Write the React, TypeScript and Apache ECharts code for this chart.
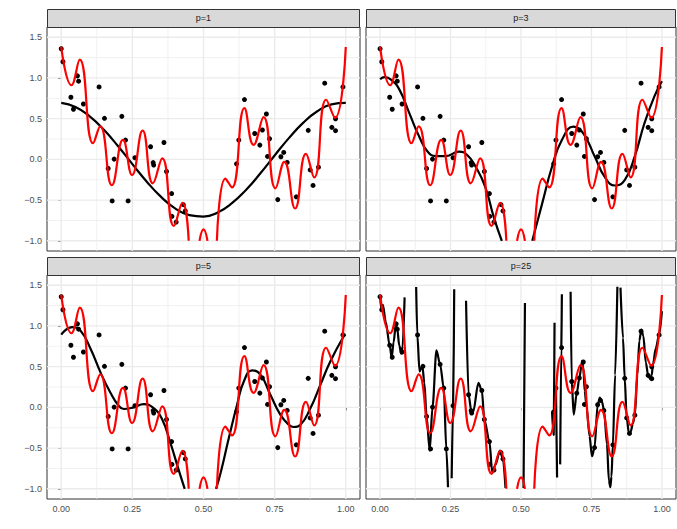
import React, { useEffect, useRef } from 'react';
import * as echarts from 'echarts';

type Pt = [number, number] | null;

const panelTitles = ['p=1', 'p=3', 'p=5', 'p=25'];
const xTickValues = [0, 0.25, 0.5, 0.75, 1];
const yTickValues = [-1, -0.5, 0, 0.5, 1, 1.5];
const xMinorValues = [0.125, 0.375, 0.625, 0.875];
const yMinorValues = [-0.75, -0.25, 0.25, 0.75, 1.25];

const observed: [number, number][] = [
  [0.000, 1.358], [0.006, 1.198], [0.034, 0.763], [0.043, 0.615], [0.057, 1.025],
  [0.061, 0.960], [0.078, 0.680], [0.133, 0.889], [0.152, 0.504], [0.165, -0.112],
  [0.179, -0.510], [0.186, 0.003], [0.213, 0.528], [0.226, 0.237], [0.235, -0.510],
  [0.259, 0.020], [0.314, 0.155], [0.323, -0.040], [0.325, -0.070], [0.361, 0.207],
  [0.370, -0.149], [0.388, -0.420], [0.389, -0.700], [0.404, -0.770], [0.429, -0.556],
  [0.436, -0.633], [0.616, -0.055], [0.624, 0.237], [0.644, 0.734], [0.680, 0.318],
  [0.698, 0.175], [0.707, 0.360], [0.721, 0.557], [0.725, 0.036], [0.732, 0.253],
  [0.761, -0.494], [0.772, 0.032], [0.782, 0.085], [0.794, -0.038], [0.826, -0.460],
  [0.868, 0.356], [0.875, -0.130], [0.885, -0.320], [0.904, -0.096], [0.926, 0.935],
  [0.951, 0.393], [0.964, 0.499], [0.964, 0.352], [0.990, 0.889],
];

// true function (red), broken where it leaves the y limits
const trueCurve: Pt[] = [
  [0, 1.38], [0.036, 0.91], [0.065, 1.225], [0.112, 0.198], [0.137, 0.405], [0.178, -0.318],
  [0.217, 0.239], [0.249, -0.192], [0.286, 0.353], [0.322, -0.294], [0.355, 0.013],
  [0.396, -0.818], [0.426, -0.533], [0.448, -1.0], null,
  [0.486, -1.0], [0.500, -0.86], [0.514, -1.0], null,
  [0.547, -1.0], [0.577, -0.237], [0.600, -0.345], [0.644, 0.63], [0.676, 0.178],
  [0.711, 0.518], [0.753, -0.355], [0.784, -0.03], [0.822, -0.603], [0.860, 0.068],
  [0.889, -0.222], [0.931, 0.732], [0.962, 0.51], [1.0, 1.38],
];

const fitP1: Pt[] = [
  [0, 0.693], [0.05, 0.642], [0.1, 0.528], [0.15, 0.363], [0.2, 0.161], [0.25, -0.058],
  [0.3, -0.271], [0.35, -0.458], [0.4, -0.601], [0.45, -0.685], [0.5, -0.703],
  [0.55, -0.652], [0.6, -0.538], [0.65, -0.373], [0.7, -0.171], [0.75, 0.048],
  [0.8, 0.261], [0.85, 0.448], [0.9, 0.591], [0.95, 0.675], [1.0, 0.693],
];

const fitP3: Pt[] = [
  [0, 0.984], [0.016, 1.009], [0.040, 0.976], [0.069, 0.853], [0.104, 0.565], [0.139, 0.277],
  [0.169, 0.094], [0.198, 0.04], [0.233, 0.04], [0.280, 0.094], [0.309, 0.053],
  [0.339, -0.09], [0.373, -0.337], [0.403, -0.706], [0.432, -1.0], null,
  [0.540, -1.0], [0.575, -0.543], [0.610, -0.091], [0.645, 0.237], [0.686, 0.401],
  [0.721, 0.319], [0.762, 0.032], [0.797, -0.214], [0.833, -0.321], [0.868, -0.255],
  [0.903, 0.032], [0.938, 0.443], [0.973, 0.771], [1.0, 0.96],
];

const fitP5: Pt[] = [
  [0, 0.894], [0.039, 0.985], [0.068, 0.94], [0.103, 0.72], [0.138, 0.43], [0.173, 0.18],
  [0.202, 0.02], [0.22, -0.02], [0.255, 0.0], [0.29, 0.04], [0.325, -0.01], [0.355, -0.15],
  [0.384, -0.44], [0.413, -0.77], [0.434, -1.0], null,
  [0.544, -1.0], [0.560, -0.807], [0.589, -0.377], [0.618, 0.033], [0.642, 0.32],
  [0.671, 0.455], [0.700, 0.402], [0.735, 0.156], [0.770, -0.09], [0.800, -0.213],
  [0.817, -0.241], [0.841, -0.213], [0.876, -0.008], [0.911, 0.279], [0.946, 0.566],
  [0.993, 0.873], [1.0, 0.89],
];

const fitP25: Pt[] = [
  [0, 1.365], [0.005, 1.2], [0.010, 1.26], [0.020, 1.05], [0.034, 0.763], [0.041, 0.61],
  [0.048, 0.8], [0.056, 1.03], [0.061, 0.96], [0.068, 0.76], [0.075, 0.66], [0.080, 0.75],
  [0.087, 1.35], null,
  [0.128, 1.477], [0.132, 0.894], [0.140, 0.44], [0.150, 0.51], [0.157, 0.3], [0.165, -0.112],
  [0.176, -0.53], [0.186, 0.003], [0.200, 0.70], [0.213, 0.528], [0.226, 0.237],
  [0.235, -0.51], [0.241, -0.98], null,
  [0.254, -0.87], [0.259, 0.02], [0.263, 1.45], null,
  [0.305, 1.31], [0.314, 0.155], [0.324, -0.05], [0.330, -0.06], [0.349, 0.30], [0.361, 0.207],
  [0.370, -0.149], [0.388, -0.42], [0.398, -0.80], [0.410, -0.70], [0.425, -0.53],
  [0.436, -0.633], [0.445, -0.99], null,
  [0.509, -0.99], [0.514, 1.28], null,
  [0.610, -0.05], [0.616, -0.34], [0.619, 1.04], null,
  [0.624, 0.237], [0.628, -0.86], null,
  [0.639, -0.70], [0.643, 0.73], [0.645, 1.39], null,
  [0.676, 1.42], [0.680, 0.318], [0.687, -0.09], [0.698, 0.175], [0.707, 0.36], [0.717, 0.57],
  [0.721, 0.50], [0.726, 0.2], [0.733, 0.0], [0.743, -0.35], [0.752, -0.60], [0.761, -0.494],
  [0.772, 0.032], [0.780, 0.12], [0.787, 0.07], [0.795, -0.04], [0.805, -0.45], [0.812, -0.90],
  [0.817, -0.98], [0.821, -0.85], [0.826, -0.46], [0.834, 0.40], [0.842, 1.48], null,
  [0.853, 1.47], [0.862, 0.85], [0.868, 0.356], [0.875, -0.13], [0.883, -0.32], [0.889, -0.30],
  [0.897, -0.20], [0.904, -0.096], [0.913, 0.40], [0.920, 0.82], [0.927, 0.955], [0.934, 0.88],
  [0.943, 0.55], [0.951, 0.393], [0.958, 0.35], [0.964, 0.40], [0.968, 0.52], [0.978, 0.72],
  [0.990, 0.889], [1.0, 1.18],
];

const fits = [fitP1, fitP3, fitP5, fitP25];

const X_MIN = -0.05, X_MAX = 1.05, Y_MIN = -1.125, Y_MAX = 1.625;

const layout = [
  { left: 47, top: 27, width: 313, height: 224, showX: false, showY: true },
  { left: 366, top: 27, width: 310, height: 224, showX: false, showY: false },
  { left: 47, top: 275, width: 313, height: 224, showX: true, showY: true },
  { left: 366, top: 275, width: 310, height: 224, showX: true, showY: false },
];

const FONT = 'Liberation Sans, Arial, Helvetica, sans-serif';

function toData(arr: Pt[]) {
  return arr.map((p) => (p === null ? ['-', '-'] : p));
}

function gridLineData(xs: number[], ys: number[]) {
  const out: any[] = [];
  xs.forEach((x) => { out.push([x, Y_MIN], [x, Y_MAX], ['-', '-']); });
  ys.forEach((y) => { out.push([X_MIN, y], [X_MAX, y], ['-', '-']); });
  return out;
}

const fmtY = (v: number) => (v < 0 ? '\u2212' : '') + Math.abs(v).toFixed(1);
const fmtX = (v: number) => v.toFixed(2);

export default function App() {
  const ref = useRef<HTMLDivElement>(null);
  useEffect(() => {
    if (!ref.current) return;
    const chart = echarts.init(ref.current, undefined, { renderer: 'svg' });
    const grids = layout.map((l) => ({
      left: l.left, top: l.top, width: l.width, height: l.height,
      show: true, borderColor: '#333333', borderWidth: 1, backgroundColor: '#FFFFFF',
      containLabel: false,
    }));
    const xAxes = layout.map((l, i) => ({
      type: 'value', gridIndex: i, min: X_MIN, max: X_MAX,
      axisLine: { show: false },
      splitLine: { show: false },
      axisTick: { show: l.showX, length: 3, customValues: xTickValues, lineStyle: { color: '#333333', width: 1 } },
      axisLabel: {
        show: l.showX, customValues: xTickValues, formatter: fmtX, margin: 5,
        color: '#4D4D4D', fontSize: 9, fontFamily: FONT,
      },
    }));
    const yAxes = layout.map((l, i) => ({
      type: 'value', gridIndex: i, min: Y_MIN, max: Y_MAX,
      axisLine: { show: false },
      splitLine: { show: false },
      axisTick: { show: l.showY, length: 3, customValues: yTickValues, lineStyle: { color: '#333333', width: 1 } },
      axisLabel: {
        show: l.showY, customValues: yTickValues, formatter: fmtY, margin: 5,
        color: '#4D4D4D', fontSize: 9, fontFamily: FONT,
      },
    }));
    const series: any[] = [];
    layout.forEach((_, i) => {
      const common = { xAxisIndex: i, yAxisIndex: i, animation: false };
      series.push({
        ...common, type: 'line', silent: true, symbol: 'none', z: 1,
        data: gridLineData(xMinorValues, yMinorValues),
        lineStyle: { color: '#EBEBEB', width: 0.7 },
      });
      series.push({
        ...common, type: 'line', silent: true, symbol: 'none', z: 1,
        data: gridLineData(xTickValues, yTickValues),
        lineStyle: { color: '#EBEBEB', width: 1.4 },
      });
      series.push({
        ...common, type: 'scatter', symbol: 'circle', symbolSize: 5, z: 3,
        itemStyle: { color: '#000000', opacity: 1 }, data: observed,
      });
      series.push({
        ...common, type: 'line', symbol: 'none', z: 4, connectNulls: false,
        smooth: i === 3 ? 0.3 : 0.5, smoothMonotone: i === 3 ? 'x' : undefined,
        lineStyle: { color: '#000000', width: 2.2 }, data: toData(fits[i]),
      });
      series.push({
        ...common, type: 'line', symbol: 'none', z: 5, connectNulls: false,
        smooth: 0.5,
        lineStyle: { color: '#FF0000', width: 2.2 }, data: toData(trueCurve),
      });
    });
    const graphic: any[] = [];
    layout.forEach((l, i) => {
      graphic.push({
        type: 'rect', z: 10,
        shape: { x: l.left + 0.5, y: l.top - 18 + 0.5, width: l.width - 1, height: 18 },
        style: { fill: '#D9D9D9', stroke: '#333333', lineWidth: 1 },
      });
      graphic.push({
        type: 'text', z: 11,
        x: l.left + l.width / 2, y: l.top - 9,
        style: {
          text: panelTitles[i], fill: '#1A1A1A', font: `normal 9px ${FONT}`,
          align: 'center', verticalAlign: 'middle', textAlign: 'center', textVerticalAlign: 'middle',
        },
      });
    });
    chart.setOption({
      animation: false,
      backgroundColor: '#FFFFFF',
      grid: grids,
      xAxis: xAxes,
      yAxis: yAxes,
      series,
      graphic,
    });
    return () => chart.dispose();
  }, []);
  return <div ref={ref} style={{ position: 'fixed', left: 0, top: 0, width: 677, height: 529 }} />;
}
